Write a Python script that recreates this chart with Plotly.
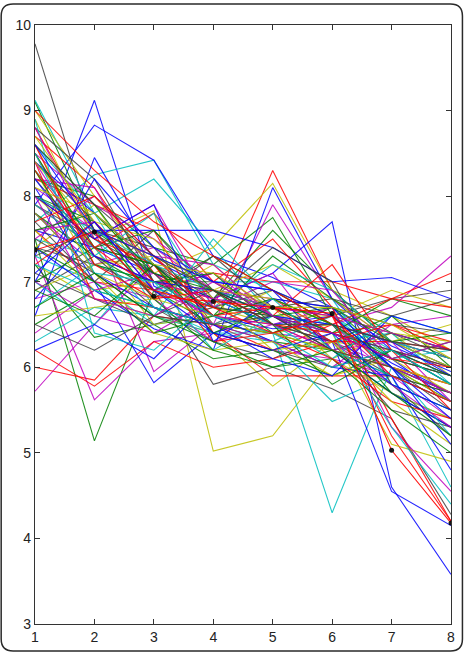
import plotly.graph_objects as go

x_values = [1, 2, 3, 4, 5, 6, 7, 8]
x_ticks = [1, 2, 3, 4, 5, 6, 7, 8]
y_ticks = [3, 4, 5, 6, 7, 8, 9, 10]

blue_series = [
    [7.30, 9.12, 6.95, 6.60, 6.45, 6.50, 6.05, 5.70],
    [7.90, 8.83, 8.42, 7.30, 7.05, 6.70, 6.25, 5.95],
    [6.60, 8.45, 7.25, 6.90, 6.70, 6.40, 6.10, 5.60],
    [7.60, 7.40, 7.10, 6.80, 7.10, 7.70, 4.60, 3.58],
    [8.10, 7.00, 5.82, 6.40, 6.60, 6.30, 4.55, 4.15],
    [6.80, 7.60, 7.60, 7.60, 7.40, 7.00, 7.05, 6.80],
    [7.40, 6.90, 6.45, 6.20, 8.10, 6.80, 6.20, 5.80],
    [8.40, 7.80, 7.20, 6.60, 6.30, 6.00, 5.90, 4.80],
    [6.20, 6.50, 6.10, 6.80, 6.50, 6.60, 6.40, 6.20],
    [7.00, 8.20, 7.40, 7.00, 6.90, 6.20, 5.70, 5.30],
    [7.80, 7.10, 6.70, 6.50, 6.10, 5.90, 6.60, 6.40],
    [8.00, 7.50, 7.90, 6.30, 6.80, 6.70, 6.00, 5.10],
    [8.20, 7.30, 7.00, 6.90, 6.60, 6.50, 6.30, 5.90],
    [7.10, 7.70, 6.90, 6.40, 6.20, 6.40, 5.80, 5.50],
    [8.60, 7.60, 7.30, 7.00, 6.90, 6.60, 6.00, 5.40],
]
green_series = [
    [7.50, 5.14, 6.90, 6.50, 6.30, 6.20, 5.80, 5.50],
    [9.10, 7.60, 7.10, 6.80, 7.60, 6.90, 6.30, 6.10],
    [8.20, 8.00, 7.40, 7.20, 7.75, 6.60, 6.00, 5.60],
    [7.20, 6.35, 6.50, 6.10, 6.20, 5.90, 6.20, 5.90],
    [6.50, 6.90, 6.70, 6.50, 6.40, 6.70, 6.10, 6.30],
    [7.80, 7.30, 6.90, 7.30, 6.90, 6.50, 5.70, 5.30],
    [8.60, 7.90, 7.00, 6.70, 6.60, 6.30, 6.60, 6.00],
    [7.00, 7.40, 7.60, 6.90, 6.40, 6.20, 5.90, 5.70],
    [7.40, 7.00, 6.40, 6.60, 7.30, 6.80, 6.40, 6.20],
    [8.00, 7.70, 6.80, 6.20, 6.00, 6.10, 5.50, 5.00],
    [6.90, 6.60, 7.20, 6.40, 6.70, 6.40, 6.80, 6.60],
    [8.30, 7.20, 7.00, 7.10, 6.50, 5.80, 6.20, 5.80],
    [8.50, 7.40, 7.20, 6.60, 6.80, 6.50, 6.10, 5.90],
    [7.60, 7.80, 7.10, 6.90, 6.60, 6.70, 6.30, 6.40],
    [6.70, 7.10, 6.60, 6.30, 6.00, 6.20, 5.70, 5.20],
]
red_series = [
    [8.80, 7.60, 7.30, 6.70, 8.30, 6.90, 6.30, 6.00],
    [6.00, 5.85, 6.60, 6.50, 6.20, 6.50, 6.00, 5.70],
    [8.50, 7.30, 7.00, 6.90, 6.70, 6.60, 5.20, 4.20],
    [8.20, 7.90, 7.60, 6.40, 5.90, 5.90, 5.90, 5.60],
    [7.60, 7.00, 6.90, 7.10, 7.00, 7.00, 6.80, 7.10],
    [8.70, 8.10, 7.10, 6.60, 6.50, 6.20, 6.00, 5.80],
    [6.20, 5.78, 6.30, 6.00, 6.10, 6.30, 6.30, 6.20],
    [7.90, 7.40, 7.80, 7.00, 7.50, 6.70, 5.40, 4.20],
    [8.40, 6.80, 6.70, 6.50, 6.80, 6.40, 6.50, 6.30],
    [7.20, 7.70, 7.00, 6.80, 6.60, 7.20, 6.20, 5.50],
    [8.00, 7.50, 7.20, 6.30, 6.40, 6.10, 5.60, 5.40],
    [9.00, 8.30, 7.70, 7.30, 6.90, 6.50, 6.80, 6.70],
    [8.60, 7.20, 6.80, 6.90, 6.50, 6.40, 6.10, 6.00],
    [7.70, 8.00, 7.30, 6.60, 6.70, 6.30, 6.50, 6.20],
    [8.30, 7.40, 6.90, 6.70, 6.40, 6.60, 5.90, 5.60],
]
cyan_series = [
    [7.70, 8.25, 8.42, 7.20, 6.90, 6.60, 6.20, 5.90],
    [9.12, 7.80, 8.20, 7.40, 6.60, 6.20, 5.70, 5.40],
    [6.30, 6.70, 6.60, 6.40, 6.40, 4.30, 6.00, 5.70],
    [7.30, 7.00, 6.50, 6.60, 6.30, 5.60, 5.90, 4.60],
    [8.30, 7.50, 6.90, 6.90, 6.70, 6.30, 6.40, 5.80],
    [7.00, 6.50, 7.30, 7.00, 7.00, 6.80, 5.80, 5.50],
    [8.60, 7.80, 6.70, 6.40, 6.30, 6.60, 6.10, 6.20],
    [6.70, 7.20, 7.00, 6.20, 6.60, 6.40, 5.30, 4.40],
    [7.50, 7.30, 7.80, 6.70, 7.20, 6.90, 6.30, 6.00],
    [8.90, 6.40, 6.20, 6.80, 6.50, 6.10, 6.60, 6.40],
    [7.90, 7.40, 6.60, 7.50, 6.80, 6.50, 6.00, 5.20],
    [8.00, 7.60, 7.20, 6.90, 6.60, 6.50, 6.30, 6.10],
    [7.20, 6.90, 6.70, 6.50, 6.80, 6.20, 5.90, 5.60],
    [8.50, 7.10, 7.00, 6.60, 6.40, 6.00, 6.20, 5.80],
]
magenta_series = [
    [5.72, 6.50, 7.20, 6.60, 6.40, 6.30, 6.00, 5.80],
    [7.30, 5.62, 6.30, 6.40, 6.20, 6.10, 5.90, 5.70],
    [8.10, 7.60, 5.95, 6.50, 7.90, 6.80, 6.30, 6.10],
    [7.80, 7.20, 7.40, 6.90, 6.80, 6.50, 6.70, 7.30],
    [6.80, 7.00, 6.80, 6.30, 6.50, 6.70, 5.30, 4.55],
    [8.50, 7.90, 7.50, 7.00, 6.70, 6.40, 6.20, 6.00],
    [7.00, 6.60, 6.40, 6.80, 7.10, 6.20, 6.30, 5.60],
    [8.20, 8.10, 6.90, 7.10, 6.60, 6.50, 5.90, 5.40],
    [6.40, 6.90, 7.10, 6.50, 6.30, 6.00, 6.50, 6.60],
    [8.80, 7.50, 7.90, 6.70, 7.00, 6.90, 6.10, 5.90],
    [7.50, 8.00, 7.30, 7.20, 6.60, 6.30, 5.80, 5.30],
    [8.40, 7.30, 7.00, 6.80, 6.70, 6.60, 6.40, 6.20],
    [7.60, 7.70, 6.90, 6.60, 6.50, 6.20, 6.00, 5.70],
    [8.00, 6.80, 6.60, 7.00, 6.60, 6.40, 6.10, 6.30],
]
yellow_series = [
    [8.90, 7.50, 7.83, 5.02, 5.20, 6.10, 6.40, 5.90],
    [7.20, 6.80, 6.60, 6.40, 5.78, 6.30, 6.20, 6.00],
    [8.60, 7.30, 7.10, 7.40, 8.15, 6.90, 6.60, 6.20],
    [7.40, 7.90, 6.90, 6.70, 6.50, 6.40, 5.10, 4.90],
    [8.00, 7.40, 6.50, 6.60, 6.90, 6.60, 6.90, 6.70],
    [6.90, 7.20, 7.30, 7.00, 6.70, 6.10, 5.70, 5.40],
    [9.00, 8.00, 7.20, 6.50, 6.40, 6.50, 6.00, 5.60],
    [7.60, 6.90, 7.00, 6.90, 7.20, 6.80, 6.30, 6.50],
    [8.30, 7.10, 6.40, 6.20, 6.30, 5.90, 6.10, 5.70],
    [6.60, 6.70, 6.80, 7.20, 6.60, 6.60, 6.40, 6.30],
    [8.70, 7.70, 7.50, 6.80, 6.20, 6.30, 5.60, 5.10],
    [8.40, 7.60, 7.30, 6.90, 6.80, 6.50, 6.30, 6.00],
    [7.80, 7.10, 6.80, 6.60, 6.40, 6.20, 6.00, 5.80],
    [8.10, 7.80, 7.20, 7.10, 6.70, 6.70, 6.50, 6.10],
]
gray_series = [
    [9.78, 7.55, 7.20, 6.80, 6.50, 6.30, 5.90, 5.60],
    [7.40, 7.20, 6.90, 5.80, 6.00, 5.75, 5.40, 4.28],
    [8.00, 7.60, 7.40, 6.50, 6.40, 6.60, 6.80, 6.90],
    [7.10, 6.80, 6.50, 6.70, 6.90, 6.50, 6.00, 5.70],
    [8.40, 7.70, 7.00, 7.00, 6.60, 6.20, 6.40, 6.10],
    [6.90, 7.30, 6.70, 6.30, 6.10, 6.40, 6.10, 5.90],
    [7.70, 7.00, 7.60, 6.80, 7.40, 7.00, 5.80, 5.20],
    [8.80, 8.20, 7.00, 6.60, 6.80, 6.70, 6.50, 6.40],
    [6.50, 6.20, 6.60, 6.90, 6.50, 6.30, 5.50, 5.30],
    [7.90, 7.50, 7.10, 6.40, 6.20, 6.00, 6.20, 6.00],
    [7.30, 7.60, 6.80, 7.30, 6.70, 6.80, 6.60, 6.80],
    [8.20, 7.40, 7.20, 6.70, 6.60, 6.40, 6.20, 5.90],
    [7.50, 7.10, 6.60, 6.50, 6.60, 6.20, 6.00, 5.50],
    [8.60, 7.90, 7.30, 6.90, 6.50, 6.50, 6.30, 6.20],
]
marked_series = [7.37, 7.58, 6.83, 6.77, 6.70, 6.63, 5.03, 4.18]

groups = [
    (blue_series, "rgb(0,0,255)"),
    (green_series, "rgb(0,128,0)"),
    (red_series, "rgb(255,0,0)"),
    (cyan_series, "rgb(0,191,191)"),
    (magenta_series, "rgb(191,0,191)"),
    (yellow_series, "rgb(191,191,0)"),
    (gray_series, "rgb(64,64,64)"),
]

fig = go.Figure()
max_len = max(len(g[0]) for g in groups)
for i in range(max_len):
    for series, color in groups:
        if i < len(series):
            fig.add_trace(go.Scatter(
                x=x_values, y=series[i], mode="lines",
                line=dict(color=color, width=1.1), opacity=0.85,
                showlegend=False, hoverinfo="skip"))

fig.add_trace(go.Scatter(
    x=x_values, y=marked_series, mode="lines+markers",
    line=dict(color="rgb(255,0,0)", width=1.1), opacity=0.9,
    marker=dict(color="black", size=5),
    showlegend=False, hoverinfo="skip"))

# rounded frame around the whole figure (paper coordinates of the plot area)
x0, x1 = -0.0813, 1.0275
y0, y1 = -0.0449, 1.0349
rx, ry = 0.0287, 0.0199
path = (f"M {x0+rx},{y1} L {x1-rx},{y1} Q {x1},{y1} {x1},{y1-ry} "
        f"L {x1},{y0+ry} Q {x1},{y0} {x1-rx},{y0} L {x0+rx},{y0} "
        f"Q {x0},{y0} {x0},{y0+ry} L {x0},{y1-ry} Q {x0},{y1} {x0+rx},{y1} Z")
fig.add_shape(type="path", path=path, xref="paper", yref="paper",
              line=dict(color="#2a2a2a", width=1.5))

axis_common = dict(showgrid=False, zeroline=False, showline=True,
                   linecolor="#333333", linewidth=1.2, mirror="allticks",
                   ticks="inside", ticklen=5, tickcolor="#333333",
                   tickfont=dict(family="Liberation Sans, Arial, sans-serif",
                                 size=14, color="#222222"))
fig.update_xaxes(range=[1, 8], tickvals=x_ticks, **axis_common)
fig.update_yaxes(range=[3, 10], tickvals=y_ticks, **axis_common)

fig.update_layout(
    width=467, height=657,
    margin=dict(l=35, r=14, t=25, b=30),
    plot_bgcolor="white", paper_bgcolor="white",
)

fig.write_html("out.html")
